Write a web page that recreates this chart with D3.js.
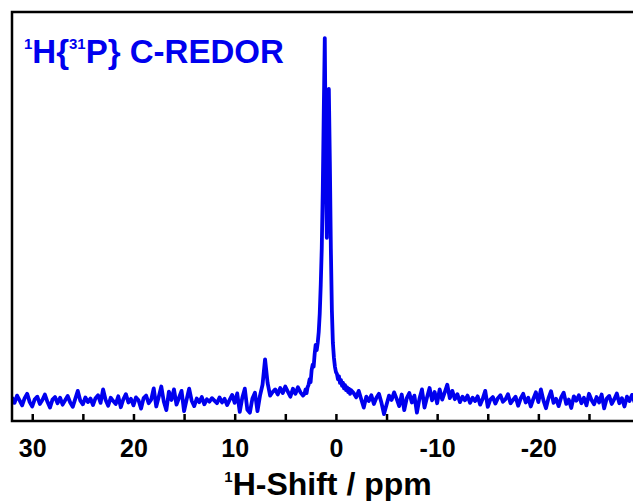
<!DOCTYPE html>
<html>
<head>
<meta charset="utf-8">
<script src="https://cdn.jsdelivr.net/npm/d3@7"></script>
<style>
  html, body { margin: 0; padding: 0; background: #fff; }
  svg { display: block; }
  text { font-family: "Liberation Sans", Arial, sans-serif; font-weight: bold; }
</style>
</head>
<body>
<svg id="chart" width="633" height="501"></svg>
<script>
// ---- Data (intensity; baseline = 0, main peak = 100) ----
// Segment A: 32.0 ppm down to 3.25 ppm, step 0.25
const segAStart = 32.0, segAStep = 0.25;
const segAValues = [
  1.0, -0.5, 1.5, 0.2, -1.2, 0.8, 2.0, -0.3,
  -1.5, 0.5, 1.2, -0.8, 0.3, 1.8, -0.2, -1.8,
  0.4, 1.1, -0.6, 0.9, -1.0, 0.2, 1.4, -0.4,
  -1.6, 0.6, 2.8, 0.1, -0.9, 1.0, -0.3, 0.7,
  -1.1, 0.8, 1.6, -0.5, 3.2, 0.3, -1.3, 0.9,
  0.0, -0.8, 1.3, -1.7, 0.5, 1.9, -0.4, 0.6,
  -1.2, 1.0, 0.2, -2.1, 0.8, 1.5, -0.6, 0.4,
  3.5, -1.5, 1.2, 4.0, -0.2, -2.5, 2.6, 0.3,
  3.2, -1.0, 0.9, 2.8, -2.8, 0.4, 3.4, 0.1,
  -1.4, 0.7, -0.3, 1.1, -0.9, 0.5, -0.2, 0.8,
  0.1, -0.6, 1.0, -0.4, 0.6, -1.1, 0.3, 1.7,
  -0.5, 2.1, -3.0, 0.9, 3.4, -2.4, -3.2, 0.7,
  2.3, -2.8, 1.5, 4.5, 11.5, 5.0,
  1.5, 2.5, 3.2, 1.8, 3.6, 2.2, 4.0, 2.6, 1.2, 3.4, 2.0, 3.8, 2.4, 1.5
];
// Segment B: 3.1 ppm down to -1.5 ppm, step 0.1 (main resonance)
const segBStart = 3.1, segBStep = 0.1;
const segBValues = [
  2.0, 3.2, 2.2, 3.8, 4.5, 6.0, 5.2, 8.5, 10.0, 9.5, 13.0, 15.5,
  14.0, 16.0, 19.0, 24.0, 32.0, 42.0, 58.0, 80.0, 100.0, 66.0,
  45.0, 70.0, 86.0, 66.0, 42.0, 25.0, 16.0, 12.0, 9.5, 8.0,
  7.5, 6.0, 6.8, 5.0, 5.8, 4.2, 5.0, 3.5, 4.4, 3.0, 3.8, 2.5, 3.4, 2.0, 3.0
];
// Segment C: -1.75 ppm down to -30.0 ppm, step 0.25
const segCStart = -1.75, segCStep = 0.25;
const segCValues = [
  2.2, 1.0, 2.8, 0.5, -1.8, 1.2, 0.0, 1.6,
  -0.8, 0.9, 2.0, -0.5, -3.6, -1.0, 1.5, 0.3,
  2.4, 0.6, -1.4, 1.8, -2.5, 0.8, 2.2, -0.4,
  1.5, -3.2, 0.6, 3.2, -1.8, 1.0, 3.6, 0.2,
  2.5, -0.6, 3.2, 0.4, 2.4, 4.5, 0.8, 2.8,
  0.5, 1.9, -0.3, 1.2, 0.2, 1.5, -0.5, 0.9,
  0.0, 1.3, -1.0, 0.6, 2.8, -1.6, 0.4, 1.1,
  -0.7, 0.8, 1.6, -0.2, 0.5, 1.9, -0.6, 0.3,
  1.2, -1.3, 0.7, 2.0, -0.4, 0.9, -1.5, 0.6,
  2.4, -0.3, 3.2, 0.2, -2.0, 0.8, 2.7, -0.5,
  0.6, -1.4, 1.0, 2.3, -0.8, 0.4, -1.9, 1.3,
  0.1, 1.6, -0.6, 0.9, -1.2, 2.0, 0.3, -0.9,
  1.1, -0.4, 1.8, -2.0, 0.7, 1.4, -0.8, 0.5,
  2.1, -0.6, 0.8, -1.5, 1.2, 0.0, 1.7, -0.3,
  0.6, 1.0
];
const xTickValues = [30, 25, 20, 15, 10, 5, 0, -5, -10, -15, -20, -25, -30];
const xLabelValues = [30, 20, 10, 0, -10, -20];
const xDomain = [32, -30];
const yDomain = [-5.5, 107.2];

// ---- Build spectrum ----
function seg(start, step, vals) {
  return vals.map((v, i) => ({ ppm: +(start - i * step).toFixed(3), y: v }));
}
const spectrum = [].concat(
  seg(segAStart, segAStep, segAValues),
  seg(segBStart, segBStep, segBValues),
  seg(segCStart, segCStep, segCValues)
);

// ---- Layout ----
const plot = { left: 12, right: 639.6, top: 12, bottom: 421 };
const blue = "#0000ee";

const svg = d3.select("#chart");
const x = d3.scaleLinear().domain(xDomain).range([plot.left, plot.right]);
const y = d3.scaleLinear().domain(yDomain).range([plot.bottom, plot.top]);

svg.append("defs").append("clipPath").attr("id", "clip")
  .append("rect")
  .attr("x", plot.left).attr("y", plot.top)
  .attr("width", plot.right - plot.left).attr("height", plot.bottom - plot.top);

// Spectrum line
const line = d3.line().x(d => x(d.ppm)).y(d => y(d.y));
svg.append("path")
  .datum(spectrum)
  .attr("clip-path", "url(#clip)")
  .attr("d", line)
  .attr("fill", "none")
  .attr("stroke", blue)
  .attr("stroke-width", 3.8)
  .attr("stroke-linejoin", "round");

// Axis (ticks inward)
const xAxis = d3.axisBottom(x)
  .tickValues(xTickValues)
  .tickSizeInner(-7)
  .tickSizeOuter(0)
  .tickPadding(18)
  .tickFormat(d => xLabelValues.includes(d) ? String(d) : "");
const gx = svg.append("g")
  .attr("transform", `translate(0,${plot.bottom})`)
  .call(xAxis);
gx.select(".domain").remove();
gx.selectAll(".tick line").attr("stroke", "#000").attr("stroke-width", 2.5);
gx.selectAll(".tick text")
  .attr("fill", "#000")
  .attr("font-size", 25)
  .attr("font-family", "'Liberation Sans', Arial, sans-serif")
  .attr("font-weight", "bold");

// Frame
svg.append("rect")
  .attr("x", plot.left).attr("y", plot.top)
  .attr("width", plot.right - plot.left).attr("height", plot.bottom - plot.top)
  .attr("fill", "none").attr("stroke", "#000").attr("stroke-width", 2.5);

// Axis title
const xt = svg.append("text")
  .attr("x", 328).attr("y", 495)
  .attr("text-anchor", "middle")
  .attr("font-size", 32)
  .attr("fill", "#000");
xt.append("tspan").attr("font-size", 15).attr("dy", -13).text("1");
xt.append("tspan").attr("dy", 13).text("H-Shift / ppm");

// Chart label
const tt = svg.append("text")
  .attr("x", 24).attr("y", 63)
  .attr("font-size", 33)
  .attr("fill", blue);
tt.append("tspan").attr("font-size", 15).attr("dy", -14).text("1");
tt.append("tspan").attr("dy", 14).text("H{");
tt.append("tspan").attr("font-size", 15).attr("dy", -14).text("31");
tt.append("tspan").attr("dy", 14).text("P} C-REDOR");
</script>
</body>
</html>
